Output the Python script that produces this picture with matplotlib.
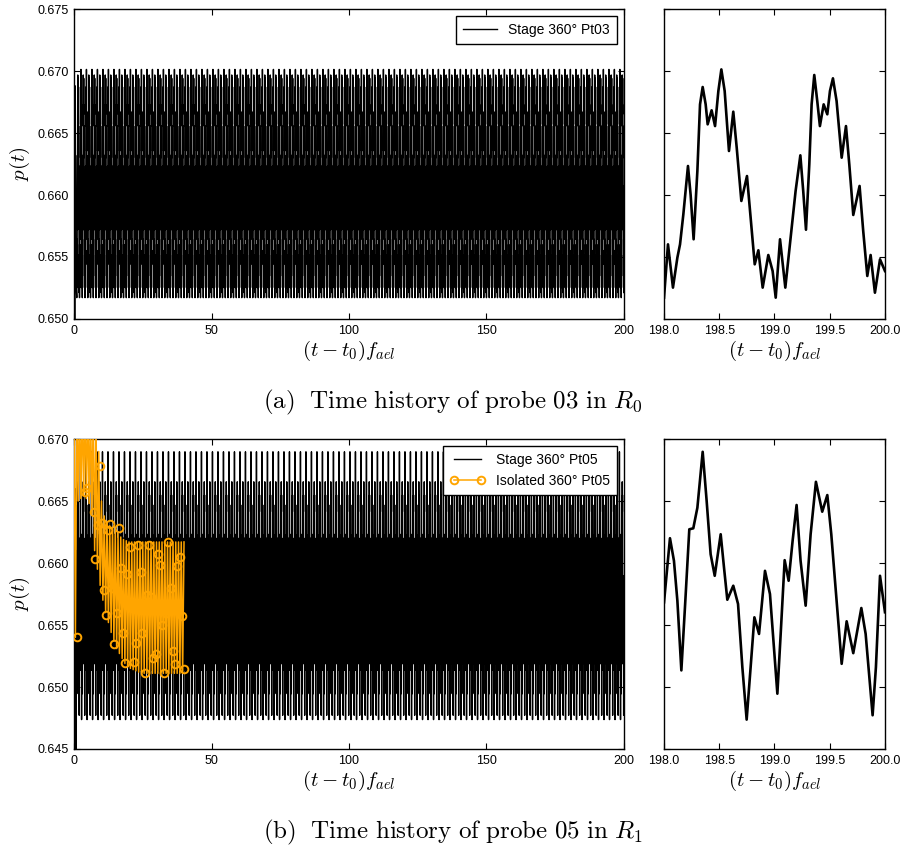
import matplotlib
matplotlib.use("Agg")
import matplotlib.pyplot as plt
import numpy as np
from matplotlib.legend_handler import HandlerTuple

plt.rcParams['font.family'] = ['Liberation Sans', 'DejaVu Sans']
plt.rcParams['mathtext.fontset'] = 'cm'

# probe 03, R0 : zoomed window 198..200
p03_zoom_t = [198.000, 198.036, 198.081, 198.121, 198.145, 198.175, 198.217, 198.241,
              198.268, 198.302, 198.326, 198.350, 198.377, 198.395, 198.431, 198.462,
              198.492, 198.519, 198.549, 198.588, 198.627, 198.658, 198.700, 198.751,
              198.784, 198.821, 198.854, 198.893, 198.944, 198.983, 199.011, 199.050,
              199.098, 199.146, 199.191, 199.234, 199.260, 199.285, 199.315, 199.336,
              199.360, 199.387, 199.411, 199.445, 199.478, 199.502, 199.529, 199.562,
              199.608, 199.647, 199.677, 199.713, 199.770, 199.803, 199.840, 199.870,
              199.909, 199.955, 200.000]
p03_zoom_p = [0.65172, 0.65602, 0.65253, 0.65495, 0.65602, 0.65844, 0.66234, 0.66000,
              0.65643, 0.66194, 0.66731, 0.66871, 0.66731, 0.66570, 0.66683, 0.66556,
              0.66839, 0.67013, 0.66839, 0.66355, 0.66672, 0.66382, 0.65952, 0.66153,
              0.65817, 0.65441, 0.65554, 0.65253, 0.65516, 0.65387, 0.65172, 0.65643,
              0.65253, 0.65656, 0.66032, 0.66320, 0.66032, 0.65720, 0.66247, 0.66731,
              0.66968, 0.66758, 0.66556, 0.66731, 0.66651, 0.66839, 0.66941, 0.66758,
              0.66301, 0.66556, 0.66247, 0.65839, 0.66073, 0.65710, 0.65347, 0.65516,
              0.65212, 0.65481, 0.65387]
# start-up transient of probe 03
p03_start_t = [0.00, 0.25, 0.45, 0.70]
p03_start_p = [0.6690, 0.6500, 0.6688, 0.6530]

# probe 05, R1 : zoomed window 198..200
p05_zoom_t = [198.000, 198.054, 198.090, 198.121, 198.157, 198.193, 198.229, 198.265,
              198.302, 198.350, 198.386, 198.422, 198.459, 198.513, 198.543, 198.573,
              198.627, 198.670, 198.709, 198.748, 198.784, 198.818, 198.860, 198.914,
              198.959, 199.026, 199.056, 199.092, 199.128, 199.164, 199.200, 199.236,
              199.282, 199.327, 199.375, 199.432, 199.478, 199.514, 199.550, 199.608,
              199.653, 199.713, 199.786, 199.825, 199.888, 199.918, 199.955, 200.000]
p05_zoom_p = [0.65683, 0.66200, 0.66018, 0.65696, 0.65134, 0.65696, 0.66272, 0.66280,
              0.66446, 0.66897, 0.66500, 0.66071, 0.65897, 0.66232, 0.65964, 0.65704,
              0.65817, 0.65670, 0.65160, 0.64737, 0.65160, 0.65562, 0.65428, 0.65937,
              0.65750, 0.64946, 0.65428, 0.66023, 0.65857, 0.66179, 0.66468, 0.66018,
              0.65656, 0.66232, 0.66655, 0.66414, 0.66548, 0.66232, 0.65830, 0.65187,
              0.65530, 0.65273, 0.65637, 0.65428, 0.64772, 0.65160, 0.65897, 0.65603]
p05_start_t = [0.00, 0.40, 0.75, 0.95]
p05_start_p = [0.6575, 0.6660, 0.6440, 0.6610]

# isolated 360 deg, probe 05: band of the oscillation per unit time
iso_env_t = list(range(0, 41))
iso_hi = [0.6725, 0.6730, 0.6730, 0.6730, 0.6730, 0.6730, 0.6730, 0.6725, 0.6715, 0.6690,
          0.6650, 0.6638, 0.6632, 0.6630, 0.6628, 0.6626, 0.6624, 0.6621, 0.6619, 0.6618,
          0.6617, 0.6617, 0.6617, 0.6617, 0.6617, 0.6617, 0.6617, 0.6617, 0.6617, 0.6617,
          0.6617, 0.6617, 0.6617, 0.6617, 0.6617, 0.6617, 0.6617, 0.6617, 0.6617, 0.6617,
          0.6617]
iso_lo = [0.6540, 0.6650, 0.6652, 0.6655, 0.6652, 0.6648, 0.6640, 0.6610, 0.6595, 0.6582,
          0.6570, 0.6560, 0.6552, 0.6544, 0.6537, 0.6531, 0.6527, 0.6523, 0.6519, 0.6517,
          0.6515, 0.6514, 0.6513, 0.6512, 0.6512, 0.6511, 0.6511, 0.6511, 0.6511, 0.6511,
          0.6511, 0.6511, 0.6511, 0.6511, 0.6511, 0.6511, 0.6511, 0.6511, 0.6511, 0.6511,
          0.6513]
# marker positions of the isolated curve
iso_mark_t = [1.0, 4.0, 4.7, 7.1, 7.7, 8.6, 9.5, 10.1, 10.8, 11.6, 12.3, 13.1, 13.9, 14.7,
              15.6, 16.3, 17.1, 17.8, 18.5, 19.4, 20.2, 20.9, 21.8, 22.6, 23.3, 24.2, 24.9,
              25.7, 26.4, 27.3, 28.0, 28.9, 29.7, 30.4, 31.2, 32.0, 32.8, 33.5, 34.3, 35.2,
              35.9, 36.8, 37.5, 38.4, 39.2, 40.0]
iso_mark_p = [0.65403, 0.66575, 0.66605, 0.66414, 0.66032, 0.66306, 0.66785, 0.66323,
              0.65785, 0.65581, 0.66266, 0.66317, 0.65798, 0.65347, 0.65597, 0.66282,
              0.65957, 0.65435, 0.65194, 0.65909, 0.66132, 0.65680, 0.65202, 0.65358,
              0.66145, 0.65927, 0.65435, 0.65113, 0.65745, 0.66148, 0.65729, 0.65231,
              0.65263, 0.66070, 0.65987, 0.65500, 0.65113, 0.65600, 0.66170, 0.65796,
              0.65288, 0.65185, 0.65978, 0.66050, 0.65575, 0.65142]


def long_series(zoom_t, zoom_p, start_t, start_p):
    # quasi periodic signal (period 1): the read 2-period window repeats over 0..200
    off = np.array(zoom_t[:-1]) - 198.0
    vals = np.array(zoom_p[:-1])
    t = np.concatenate([off + b for b in range(0, 200, 2)] + [[200.0]])
    p = np.concatenate([vals] * 100 + [[zoom_p[-1]]])
    keep = t >= 1.0
    return (np.concatenate([start_t, t[keep]]), np.concatenate([start_p, p[keep]]))


def style(ax):
    ax.tick_params(direction='in', top=True, right=True, length=4, labelsize=9, pad=4)
    for s in ax.spines.values():
        s.set_linewidth(1.0)


fig = plt.figure(figsize=(9.06, 8.52), dpi=100)
axL1 = fig.add_axes([0.0817, 0.6256, 0.607, 0.3638])
axR1 = fig.add_axes([0.7329, 0.6256, 0.2439, 0.3638])
axL2 = fig.add_axes([0.0817, 0.1209, 0.607, 0.3638])
axR2 = fig.add_axes([0.7329, 0.1209, 0.2439, 0.3638])

xlab = r'$(t-t_0)f_{ael}$'

# ---- (a) probe 03
t03, v03 = long_series(p03_zoom_t, p03_zoom_p, p03_start_t, p03_start_p)
axL1.plot(t03, v03, color='black', lw=1.0, label='Stage 360° Pt03')
axL1.set_xlim(0, 200)
axL1.set_ylim(0.650, 0.675)
axL1.set_xticks([0, 50, 100, 150, 200])
axL1.set_yticks(np.arange(0.650, 0.6751, 0.005))
axL1.yaxis.set_major_formatter(plt.FormatStrFormatter('%.3f'))
axL1.set_xlabel(xlab, fontsize=15, labelpad=2)
axL1.set_ylabel(r'$p(t)$', fontsize=15, labelpad=4)
leg = axL1.legend(loc='upper right', fontsize=10, fancybox=False, framealpha=1,
                  edgecolor='black', handlelength=2.5, borderpad=0.5)
leg.get_frame().set_linewidth(1.0)
style(axL1)

axR1.plot(p03_zoom_t, p03_zoom_p, color='black', lw=1.9, solid_joinstyle='round')
axR1.set_xlim(198, 200)
axR1.set_ylim(0.650, 0.675)
axR1.set_yticks(np.arange(0.650, 0.6751, 0.005))
axR1.set_xticks([198.0, 198.5, 199.0, 199.5, 200.0])
axR1.xaxis.set_major_formatter(plt.FormatStrFormatter('%.1f'))
axR1.set_xlabel(xlab, fontsize=15, labelpad=2)
style(axR1)
axR1.tick_params(labelleft=False)

fig.text(0.5, 0.528, r'$\mathrm{(a)\ \ Time\ history\ of\ probe\ 03\ in\ }R_0$',
         ha='center', va='center', fontsize=18)

# ---- (b) probe 05
t05, v05 = long_series(p05_zoom_t, p05_zoom_p, p05_start_t, p05_start_p)
stage, = axL2.plot(t05, v05, color='black', lw=1.0)

zz_t, zz_p = [], []
for t, hi, lo in zip(iso_env_t, iso_hi, iso_lo):
    zz_t += [t, t + 0.5]
    zz_p += [hi, lo]
iso_line, = axL2.plot(zz_t[:-1], zz_p[:-1], color='orange', lw=1.1, zorder=3)
iso_mk, = axL2.plot(iso_mark_t, iso_mark_p, ls='none', marker='o', ms=5.5, mfc='none',
                    mec='orange', mew=1.4, zorder=4)
axL2.set_xlim(0, 200)
axL2.set_ylim(0.645, 0.670)
axL2.set_xticks([0, 50, 100, 150, 200])
axL2.set_yticks(np.arange(0.645, 0.6701, 0.005))
axL2.yaxis.set_major_formatter(plt.FormatStrFormatter('%.3f'))
axL2.set_xlabel(xlab, fontsize=15, labelpad=2)
axL2.set_ylabel(r'$p(t)$', fontsize=15, labelpad=4)
leg2 = axL2.legend([stage, (iso_line, iso_mk)],
                   ['Stage 360° Pt05', 'Isolated 360° Pt05'],
                   handler_map={tuple: HandlerTuple(ndivide=1)},
                   loc='upper right', fontsize=10, fancybox=False, framealpha=1,
                   edgecolor='black', handlelength=2.5, borderpad=0.5, numpoints=2)
leg2.get_frame().set_linewidth(1.0)
style(axL2)

axR2.plot(p05_zoom_t, p05_zoom_p, color='black', lw=1.9, solid_joinstyle='round')
axR2.set_xlim(198, 200)
axR2.set_ylim(0.645, 0.670)
axR2.set_yticks(np.arange(0.645, 0.6701, 0.005))
axR2.set_xticks([198.0, 198.5, 199.0, 199.5, 200.0])
axR2.xaxis.set_major_formatter(plt.FormatStrFormatter('%.1f'))
axR2.set_xlabel(xlab, fontsize=15, labelpad=2)
style(axR2)
axR2.tick_params(labelleft=False)

fig.text(0.5, 0.0235, r'$\mathrm{(b)\ \ Time\ history\ of\ probe\ 05\ in\ }R_1$',
         ha='center', va='center', fontsize=18)

fig.savefig('out.png', dpi=100)
